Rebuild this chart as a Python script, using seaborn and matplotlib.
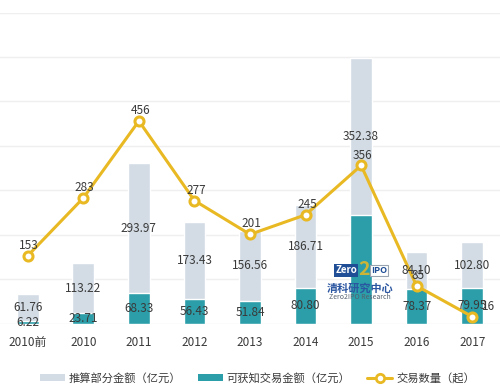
import matplotlib
matplotlib.use('Agg')
import matplotlib.pyplot as plt
from matplotlib.patches import Patch
from matplotlib.lines import Line2D
import seaborn as sns
import pandas as pd

years = ['2010前', '2010', '2011', '2012', '2013', '2014', '2015', '2016', '2017']
estimated = [61.76, 113.22, 293.97, 173.43, 156.56, 186.71, 352.38, 84.10, 102.80]  # 推算部分金额
known = [6.22, 23.71, 68.33, 56.43, 51.84, 80.80, 244.62, 78.37, 79.95]  # 可获知交易金额
deals = [153, 283, 456, 277, 201, 245, 356, 85, 16]  # 交易数量

light = '#d3dce5'
teal = '#2b9ea9'
gold = '#e9b923'
txt = '#3a3a3a'

sns.set_style('white')
plt.rcParams['font.family'] = ['Noto Sans CJK SC', 'DejaVu Sans']

df = pd.DataFrame({'year': years, 'est': estimated, 'known': known, 'deals': deals})
df['total'] = df['est'] + df['known']

fig = plt.figure(figsize=(5, 3.91), dpi=100)
ax = fig.add_axes([0, 0.172, 1.0, 0.796])

sns.barplot(data=df, x='year', y='total', color=light, saturation=1, width=0.39, ax=ax, zorder=2)
sns.barplot(data=df, x='year', y='known', color=teal, saturation=1, width=0.39, ax=ax, zorder=3)
sns.pointplot(data=df, x='year', y='deals', color=gold, ax=ax, markers='o',
              markersize=6.5, markerfacecolor='white', markeredgecolor=gold,
              markeredgewidth=2.2, linewidth=2.2, zorder=4)

# value labels
fs = 8.5
for i, row in df.iterrows():
    ax.text(i, row['known'] + row['est'] / 2, f"{row['est']:.2f}", ha='center', va='center',
            fontsize=fs, color=txt, zorder=6)
    if row['year'] != '2015':  # hidden under the watermark in the original
        ax.text(i, row['known'] / 2, f"{row['known']:.2f}", ha='center', va='center',
                fontsize=fs, color=txt, zorder=6)
    dx = 11.5 if i == len(df) - 1 else 1
    ax.annotate(str(row['deals']), (i, row['deals']), xytext=(dx, 7.5), textcoords='offset points',
                ha='center', va='center', fontsize=fs, color=txt, zorder=6)

ax.set_xlim(-0.5, len(years) - 0.5)
ax.set_ylim(0, 700)
ax.set_yticks(range(0, 701, 100))
ax.set_yticklabels([])
ax.grid(axis='y', color='#efefef', lw=1, zorder=0)
ax.set_axisbelow(True)
ax.tick_params(axis='y', length=0)
ax.tick_params(axis='x', length=0, pad=9, labelsize=fs, labelcolor=txt)
ax.set_xlabel('')
ax.set_ylabel('')
for s in ax.spines.values():
    s.set_visible(False)

# watermark
fig.text(0.692, 0.3085, 'Zero', fontsize=7, fontweight='bold', color='white', ha='center', va='center',
         bbox=dict(boxstyle='square,pad=0.15', fc='#1f4e96', ec='none'))
fig.text(0.728, 0.31, '2', fontsize=14, fontweight='bold', color='#e9b923', ha='center', va='center', alpha=0.85)
fig.text(0.758, 0.3085, 'IPO', fontsize=6.5, fontweight='bold', color='#1f4e96', ha='center', va='center',
         bbox=dict(boxstyle='square,pad=0.15', fc='white', ec='#9aa4b0', lw=0.8))
fig.text(0.72, 0.263, '清科研究中心', fontsize=8, fontweight='bold', color='#2a55a0', ha='center', va='center')
fig.text(0.72, 0.240, 'Zero2IPO Research', fontsize=5, color='#55606e', ha='center', va='center')

handles = [Patch(fc=light, ec='none'), Patch(fc=teal, ec='none'),
           Line2D([], [], color=gold, lw=2.2, marker='o', ms=6, mfc='white', mec=gold, mew=2)]
labels = ['推算部分金额（亿元）', '可获知交易金额（亿元）', '交易数量（起）']
fig.legend(handles, labels, loc='center', bbox_to_anchor=(0.515, 0.033), ncol=3, frameon=False,
           fontsize=8.1, handlelength=2.2, handleheight=0.6, handletextpad=0.35, columnspacing=1.5,
           labelcolor=txt)

fig.savefig('out.png', dpi=100)
